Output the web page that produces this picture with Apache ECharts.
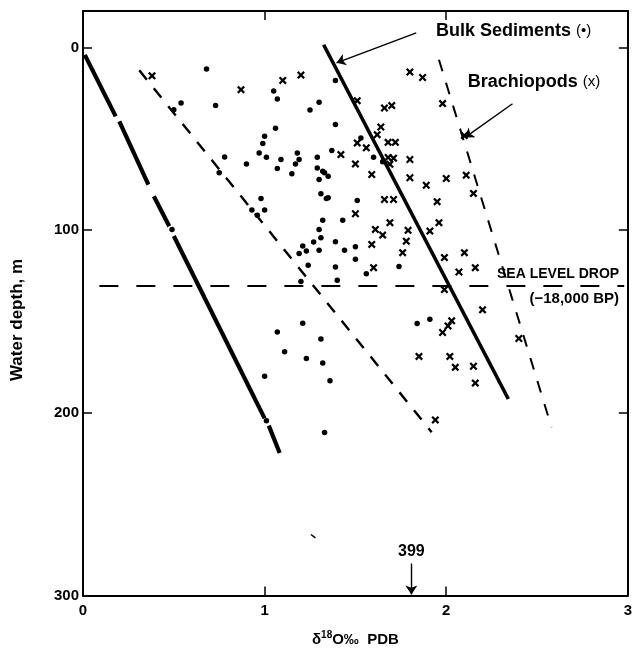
<!DOCTYPE html>
<html>
<head>
<meta charset="utf-8">
<script src="https://cdn.jsdelivr.net/npm/echarts@6/dist/echarts.min.js"></script>
<style>
  body { margin: 0; background: #fff; }
  #main { width: 635px; height: 652px; }
</style>
</head>
<body>
<div id="main"></div>
<script>
// depth ticks (m) and d18O ticks
var depthTicks = [0, 100, 200, 300];
var depthTicksRight = [0, 100, 200];

// bulk sediments (dots): [d18O, depth]
var bulkDots = [
  [0.68, 11.8], [0.54, 30.4], [0.73, 31.7], [0.50, 34.0], [1.39, 18.0], [1.05, 23.8],
  [1.07, 28.2], [1.30, 30.0], [1.25, 34.2], [1.06, 44.2], [1.00, 48.6], [0.99, 52.6],
  [1.39, 42.2], [1.37, 56.4], [1.60, 60.1], [1.65, 62.6], [1.32, 67.7], [1.35, 70.5],
  [1.35, 82.3], [1.51, 83.7], [1.32, 94.6], [1.43, 94.6], [1.39, 106.3], [1.50, 109.0],
  [1.44, 111.0], [1.50, 115.9], [1.39, 120.2], [1.56, 123.8], [1.74, 119.9], [1.40, 127.4],
  [1.84, 151.1], [1.91, 148.7], [1.21, 150.9], [1.07, 155.7], [1.31, 159.6], [1.11, 166.6],
  [1.23, 170.2], [1.32, 172.7], [1.00, 180.0], [1.36, 182.4], [1.01, 204.3], [1.33, 210.8],
  [0.78, 59.9], [0.90, 63.7], [0.97, 57.7], [1.01, 60.1], [1.07, 66.2], [1.09, 61.3],
  [1.18, 57.7], [1.19, 61.3], [1.17, 63.7], [1.15, 69.1], [0.75, 68.6], [1.29, 60.1],
  [1.29, 65.9], [1.30, 72.3], [1.33, 68.6], [1.31, 80.1], [1.34, 82.6], [0.98, 82.6],
  [0.93, 89.0], [0.96, 91.8], [1.00, 89.0], [1.30, 99.6], [1.31, 104.1], [1.27, 106.5],
  [1.30, 111.0], [1.21, 108.7], [1.23, 111.4], [1.19, 112.8], [1.24, 119.2], [1.20, 128.1],
  [1.53, 49.5], [0.49, 99.6]
];

// brachiopods (x marks)
var brachiopods = [
  [0.38, 15.5], [0.87, 23.1], [1.10, 18.0], [1.20, 15.1], [1.80, 13.4], [1.87, 16.4],
  [1.98, 30.7], [1.51, 29.1], [1.66, 33.1], [1.70, 31.8], [1.64, 43.5], [1.62, 47.7],
  [1.68, 51.9], [1.72, 51.9], [1.51, 52.2], [1.56, 54.9], [2.10, 48.2], [1.42, 58.6],
  [1.68, 60.2], [1.71, 60.6], [1.69, 63.9], [1.80, 61.3], [1.50, 63.7], [1.59, 69.5],
  [1.80, 71.3], [1.89, 75.4], [2.00, 71.7], [2.11, 69.9], [1.66, 83.2], [1.71, 83.2],
  [1.95, 84.4], [2.15, 79.9], [1.50, 91.0], [1.69, 95.9], [1.96, 95.9], [1.61, 99.6],
  [1.65, 102.7], [1.79, 100.1], [1.91, 100.5], [1.78, 106.0], [1.59, 107.8], [1.76, 112.3],
  [1.99, 115.0], [2.10, 112.3], [1.60, 120.5], [2.07, 122.9], [2.16, 120.5], [1.99, 132.5],
  [2.20, 143.6], [1.98, 156.0], [2.01, 152.4], [2.03, 149.6], [2.40, 159.3], [1.85, 169.1],
  [2.02, 169.1], [2.05, 175.1], [2.15, 174.5], [2.16, 183.7], [1.94, 203.9]
];

// trend lines (end points)
var heavyDashSegs = [
  [[0.01, 4.0], [0.18, 37.7]],
  [[0.20, 40.4], [0.36, 75.0]],
  [[0.39, 81.4], [0.475, 97.8]],
  [[0.50, 103.2], [1.0, 203.0]],
  [[1.023, 207], [1.083, 222]]
];
var thinDashLine = [[0.31, 12.5], [1.92, 210.6]];
var bulkLine = [[1.325, -1.5], [2.342, 192.4]];
var brachLine = [[1.96, 6.7], [2.58, 207.9]];
var seaLevelLine = [[0.09, 130.2], [2.98, 130.2]];
var strayMark = [[1.255, 266.6], [1.28, 268.4]];

// annotation arrows
var bulkArrow = [[1.835, -8.0], [1.396, 8.4]];
var brachArrow = [[2.365, 30.8], [2.102, 49.3]];
var arrow399 = [[1.808, 282.5], [1.808, 299.5]];

var FONT = '"Liberation Sans", Arial, Helvetica, sans-serif';
var X_MARK = 'path://M0,2L2,0L5,3L8,0L10,2L7,5L10,8L8,10L5,7L2,10L0,8L3,5Z';

var chart = echarts.init(document.getElementById('main'));

function frameAxis(pos, extra) {
  var a = {
    type: 'value',
    position: pos,
    axisLine: { onZero: false, lineStyle: { color: '#000', width: 2 } },
    axisTick: { inside: true, length: 9, lineStyle: { color: '#000', width: 1.5 } },
    axisLabel: { show: false },
    splitLine: { show: false }
  };
  return Object.assign(a, extra);
}

function seg(coords, style) {
  return {
    type: 'lines',
    coordinateSystem: 'cartesian2d',
    silent: true,
    lineStyle: Object.assign({ color: '#000', opacity: 1, cap: 'butt' }, style),
    data: coords.map(function (c) { return { coords: c }; })
  };
}

function arrow(coords) {
  var s = seg([coords], { width: 1.4 });
  s.symbol = ['none', 'arrow'];
  s.symbolSize = [7, 9];
  return s;
}

chart.setOption({
  animation: false,
  backgroundColor: '#fff',
  grid: { left: 83, right: 4, top: 11, bottom: 55 },
  xAxis: [
    frameAxis('bottom', {
      min: 0, max: 3, interval: 1,
      axisLabel: { show: true, color: '#000', fontWeight: 'bold', fontSize: 15, fontFamily: FONT, margin: 8 },
      name: 'δ{s|18}O‰  PDB',
      nameLocation: 'middle',
      nameGap: 35,
      nameTextStyle: {
        color: '#000', fontWeight: 'bold', fontSize: 15, fontFamily: FONT,
        rich: { s: { fontSize: 10, fontWeight: 'bold', fontFamily: FONT, padding: [0, 0, 8, 0] } }
      }
    }),
    frameAxis('top', { min: 0, max: 3, interval: 1 })
  ],
  yAxis: [
    frameAxis('left', {
      inverse: true, min: -20, max: 300,
      axisTick: { inside: true, length: 9, customValues: depthTicks, lineStyle: { color: '#000', width: 1.5 } },
      axisLabel: { show: true, customValues: depthTicks, color: '#000', fontWeight: 'bold', fontSize: 15, fontFamily: FONT, margin: 4 }
    }),
    frameAxis('right', {
      inverse: true, min: -20, max: 300,
      axisTick: { inside: true, length: 9, customValues: depthTicksRight, lineStyle: { color: '#000', width: 1.5 } }
    })
  ],
  series: [
    seg(heavyDashSegs, { width: 4.2 }),
    seg([thinDashLine], { width: 2.4, type: [12, 11] }),
    seg([bulkLine], { width: 3.6 }),
    seg([brachLine], { width: 2, type: [12, 12] }),
    seg([seaLevelLine], { width: 1.8, type: [19, 18] }),
    seg([strayMark], { width: 1.5 }),
    arrow(bulkArrow),
    arrow(brachArrow),
    arrow(arrow399),
    {
      name: 'Bulk Sediments', type: 'scatter', symbol: 'circle', symbolSize: 5.5,
      itemStyle: { color: '#000', opacity: 1 }, data: bulkDots
    },
    {
      name: 'Brachiopods', type: 'scatter', symbol: X_MARK, symbolSize: 8,
      itemStyle: { color: '#000', opacity: 1 }, data: brachiopods
    }
  ]
});

// text annotations placed through the axes
function px(p) { return chart.convertToPixel({ xAxisIndex: 0, yAxisIndex: 0 }, p); }
function label(pt, text, align, font, rich) {
  var p = px(pt);
  return {
    type: 'text', x: p[0], y: p[1], silent: true,
    style: { text: text, fill: '#000', font: font, align: align, verticalAlign: 'middle', rich: rich }
  };
}
var boldBig = 'bold 18px ' + FONT;
var richParen = { p: { fontSize: 15, fontFamily: FONT, fontWeight: 'normal', fill: '#000' } };

chart.setOption({
  graphic: [
    label([1.944, -9.1], 'Bulk Sediments {p|(•)}', 'left', boldBig, richParen),
    label([2.119, 19.0], 'Brachiopods {p|(x)}', 'left', boldBig, richParen),
    label([2.952, 123.9], 'SEA LEVEL DROP', 'right', 'bold 14px ' + FONT),
    label([2.952, 137.5], '(−18,000 BP)', 'right', 'bold 15px ' + FONT),
    label([1.808, 276], '399', 'center', 'bold 16px ' + FONT),
    {
      type: 'text', x: 17.5, y: 320, rotation: Math.PI / 2, silent: true,
      style: { text: 'Water depth, m', fill: '#000', font: 'bold 17px ' + FONT, align: 'center', verticalAlign: 'middle' }
    }
  ]
});
</script>
</body>
</html>
